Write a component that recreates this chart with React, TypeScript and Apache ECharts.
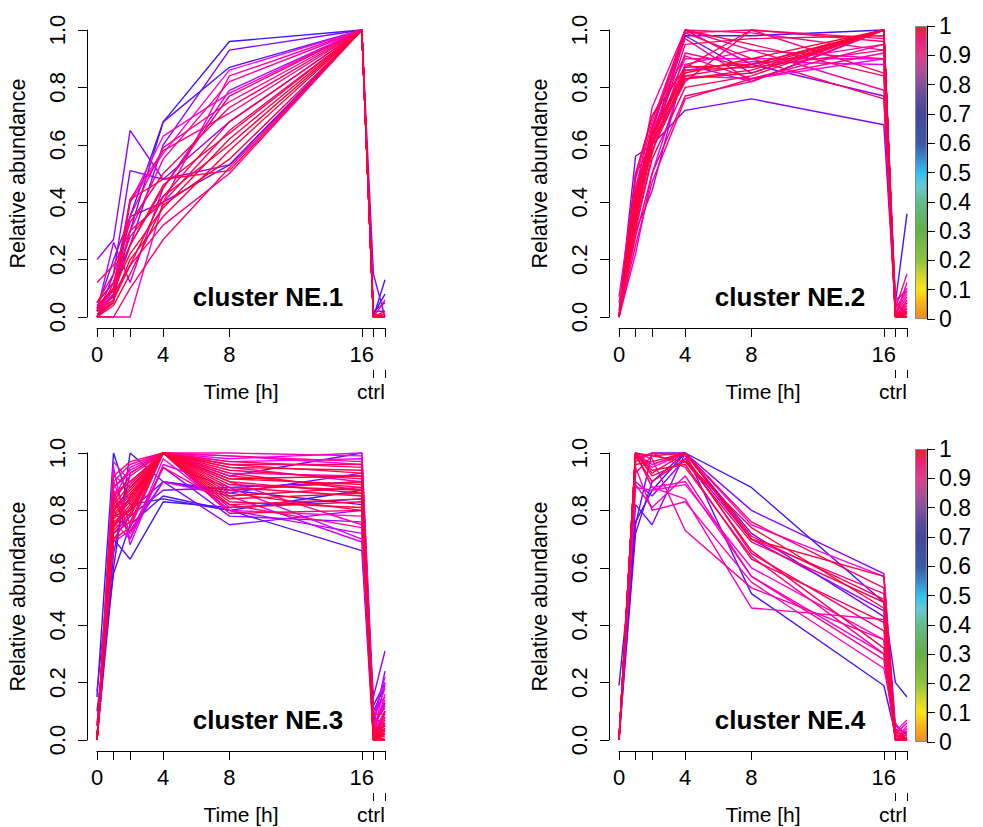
import React, { useEffect, useRef } from 'react';
import * as echarts from 'echarts';

// ---------- data ----------
const TIME_POINTS = [0, 1, 2, 4, 8, 16, 16.7, 17.4];
const X_TICKS = [0, 1, 2, 4, 8, 16, 16.7, 17.4];
const X_LABELS = [0, 4, 8, 16];
const CTRL_TICKS = [16.7, 17.4];
const CTRL_LABEL_POS = [16.55];
const CLUSTER_NAMES = ['cluster NE.1', 'cluster NE.2', 'cluster NE.3', 'cluster NE.4'];

const C1_PROFILES = [
  [0.03, 0.07, 0.30, 0.68, 0.96, 1, 0.01, 0.08],
  [0.05, 0.12, 0.25, 0.60, 0.93, 1, 0.02, 0.05],
  [0.02, 0.08, 0.35, 0.68, 0.87, 1, 0.00, 0.13],
  [0.20, 0.27, 0.65, 0.48, 0.68, 1, 0.15, 0.00],
  [0.00, 0.15, 0.51, 0.48, 0.53, 1, 0.02, 0.02],
  [0.02, 0.26, 0.12, 0.45, 0.79, 1, 0.00, 0.00],
  [0.00, 0.00, 0.00, 0.40, 0.84, 1, 0.00, 0.00],
  [0.00, 0.05, 0.40, 0.63, 0.78, 1, 0.00, 0.00],
  [0.04, 0.10, 0.41, 0.58, 0.71, 1, 0.00, 0.01],
  [0.01, 0.05, 0.41, 0.48, 0.51, 1, 0.00, 0.00],
  [0.00, 0.08, 0.25, 0.45, 0.77, 1, 0.01, 0.00],
  [0.12, 0.18, 0.30, 0.40, 0.65, 1, 0.00, 0.00],
  [0.03, 0.10, 0.22, 0.38, 0.62, 1, 0.00, 0.00],
  [0.00, 0.06, 0.20, 0.35, 0.58, 1, 0.00, 0.02],
  [0.05, 0.12, 0.28, 0.42, 0.68, 1, 0.00, 0.00],
  [0.00, 0.00, 0.10, 0.27, 0.52, 1, 0.00, 0.06],
  [0.00, 0.08, 0.18, 0.32, 0.50, 1, 0.00, 0.00],
  [0.02, 0.10, 0.30, 0.55, 0.82, 1, 0.00, 0.00],
  [0.00, 0.12, 0.35, 0.59, 0.75, 1, 0.00, 0.00],
  [0.05, 0.15, 0.33, 0.50, 0.73, 1, 0.00, 0.00],
  [0.02, 0.06, 0.18, 0.42, 0.60, 1, 0.00, 0.00],
  [0.00, 0.04, 0.15, 0.39, 0.55, 1, 0.00, 0.00],
  [0.04, 0.09, 0.25, 0.46, 0.64, 1, 0.00, 0.01],
  [0.00, 0.10, 0.40, 0.57, 0.86, 1, 0.00, 0.00],
  [0.03, 0.20, 0.35, 0.40, 0.53, 1, 0.00, 0.00],
];
const C1_MEMBERSHIP = [0.55, 0.65, 0.58, 0.68, 0.66, 0.72, 0.83, 0.8, 0.88, 0.95, 0.93, 0.9, 0.97, 0.96, 0.94, 0.9, 0.88, 0.86, 0.85, 0.92, 0.98, 0.99, 0.97, 0.78, 0.62];

const C2_PROFILES = [
  [0.00, 0.45, 0.62, 0.98, 0.98, 1.00, 0.05, 0.36],
  [0.00, 0.50, 0.60, 0.98, 0.85, 1.00, 0.00, 0.02],
  [0.02, 0.56, 0.60, 0.72, 0.76, 0.67, 0.02, 0.00],
  [0.00, 0.40, 0.65, 1.00, 0.88, 0.77, 0.00, 0.03],
  [0.00, 0.30, 0.44, 0.88, 0.82, 1.00, 0.00, 0.02],
  [0.05, 0.35, 0.60, 0.84, 0.83, 0.90, 0.02, 0.08],
  [0.00, 0.40, 0.65, 0.90, 0.90, 0.90, 0.05, 0.10],
  [0.00, 0.42, 0.73, 1.00, 0.88, 0.95, 0.00, 0.05],
  [0.00, 0.38, 0.66, 1.00, 0.99, 0.93, 0.03, 0.15],
  [0.00, 0.36, 0.62, 0.99, 1.00, 0.85, 0.00, 0.02],
  [0.00, 0.33, 0.60, 0.87, 1.00, 0.97, 0.05, 0.01],
  [0.00, 0.38, 0.64, 0.86, 0.87, 1.00, 0.00, 0.00],
  [0.00, 0.35, 0.61, 0.83, 0.86, 1.00, 0.00, 0.01],
  [0.00, 0.40, 0.63, 0.84, 0.88, 1.00, 0.00, 0.03],
  [0.00, 0.37, 0.58, 0.83, 0.85, 1.00, 0.02, 0.00],
  [0.00, 0.31, 0.55, 0.80, 0.84, 1.00, 0.00, 0.06],
  [0.00, 0.28, 0.50, 0.77, 0.82, 1.00, 0.00, 0.02],
  [0.00, 0.25, 0.47, 0.76, 0.83, 0.95, 0.03, 0.09],
  [0.00, 0.45, 0.68, 1.00, 0.93, 0.79, 0.00, 0.12],
  [0.00, 0.42, 0.66, 0.99, 0.90, 0.76, 0.02, 0.00],
  [0.07, 0.48, 0.70, 0.91, 0.83, 0.92, 0.00, 0.04],
  [0.00, 0.35, 0.62, 0.88, 0.93, 0.90, 0.00, 0.05],
  [0.00, 0.32, 0.60, 0.95, 0.97, 0.98, 0.00, 0.00],
  [0.00, 0.40, 0.66, 1.00, 0.95, 0.84, 0.00, 0.01],
  [0.00, 0.22, 0.50, 0.86, 0.89, 0.88, 0.06, 0.09],
  [0.00, 0.50, 0.70, 0.87, 0.88, 1.00, 0.00, 0.02],
  [0.00, 0.43, 0.64, 0.85, 0.90, 1.00, 0.00, 0.00],
  [0.00, 0.30, 0.57, 0.92, 0.87, 0.93, 0.01, 0.07],
  [0.00, 0.38, 0.63, 0.97, 0.82, 1.00, 0.00, 0.00],
  [0.00, 0.34, 0.60, 0.82, 1.00, 0.96, 0.00, 0.03],
];
const C2_MEMBERSHIP = [0.55, 0.58, 0.65, 0.66, 0.7, 0.78, 0.8, 0.85, 0.87, 0.9, 0.92, 0.94, 0.96, 0.97, 0.98, 0.93, 0.9, 0.88, 0.86, 0.91, 0.85, 0.82, 0.95, 0.92, 0.75, 0.99, 1.0, 0.89, 0.84, 0.9];

const C3_PROFILES = [
  [0.15, 1.00, 0.82, 0.84, 0.80, 0.87, 0.10, 0.19],
  [0.00, 0.60, 1.00, 0.90, 0.87, 0.82, 0.05, 0.12],
  [0.00, 0.70, 0.63, 0.83, 0.81, 0.84, 0.03, 0.05],
  [0.10, 0.58, 0.75, 0.85, 0.80, 0.66, 0.00, 0.10],
  [0.00, 0.65, 0.93, 1.00, 0.92, 1.00, 0.12, 0.20],
  [0.05, 0.75, 0.80, 0.90, 0.86, 0.93, 0.08, 0.05],
  [0.00, 0.80, 0.72, 0.90, 0.75, 0.80, 0.15, 0.31],
  [0.00, 0.85, 0.70, 0.95, 0.78, 0.76, 0.05, 0.24],
  [0.00, 0.92, 0.88, 1.00, 0.80, 0.72, 0.10, 0.15],
  [0.00, 0.95, 0.68, 0.96, 0.88, 0.70, 0.02, 0.20],
  [0.00, 0.97, 0.90, 1.00, 0.97, 0.98, 0.05, 0.12],
  [0.00, 0.90, 0.75, 1.00, 0.99, 0.96, 0.00, 0.08],
  [0.00, 0.80, 0.85, 1.00, 0.93, 0.92, 0.03, 0.10],
  [0.00, 0.78, 0.80, 1.00, 0.95, 0.90, 0.02, 0.05],
  [0.00, 0.82, 0.78, 1.00, 0.92, 0.88, 0.00, 0.08],
  [0.00, 0.75, 0.82, 1.00, 0.90, 0.86, 0.04, 0.03],
  [0.00, 0.72, 0.76, 1.00, 0.88, 0.85, 0.00, 0.06],
  [0.00, 0.80, 0.86, 1.00, 0.94, 0.91, 0.02, 0.00],
  [0.00, 0.85, 0.90, 1.00, 0.96, 0.93, 0.00, 0.10],
  [0.00, 0.70, 0.74, 1.00, 0.82, 0.84, 0.01, 0.02],
  [0.00, 0.76, 0.80, 1.00, 0.81, 0.83, 0.00, 0.04],
  [0.00, 0.74, 0.85, 1.00, 0.85, 0.88, 0.09, 0.09],
  [0.00, 0.80, 0.88, 1.00, 0.87, 0.90, 0.02, 0.01],
  [0.00, 0.77, 0.83, 1.00, 0.89, 0.87, 0.00, 0.00],
  [0.00, 0.83, 0.92, 1.00, 0.91, 0.89, 0.05, 0.03],
  [0.00, 0.88, 0.94, 1.00, 0.97, 0.95, 0.00, 0.07],
  [0.00, 0.90, 0.96, 1.00, 0.99, 0.97, 0.04, 0.14],
  [0.00, 0.73, 0.79, 1.00, 0.83, 0.81, 0.00, 0.02],
  [0.00, 0.79, 0.84, 1.00, 0.86, 0.80, 0.03, 0.05],
  [0.00, 0.81, 0.87, 1.00, 0.93, 0.87, 0.01, 0.00],
  [0.00, 0.86, 0.90, 1.00, 0.90, 0.75, 0.06, 0.11],
  [0.00, 0.76, 0.70, 0.98, 0.80, 0.78, 0.02, 0.16],
  [0.00, 0.88, 0.93, 1.00, 1.00, 0.99, 0.00, 0.05],
  [0.00, 0.84, 0.95, 1.00, 0.98, 1.00, 0.08, 0.22],
  [0.05, 0.70, 0.78, 1.00, 0.79, 0.80, 0.00, 0.03],
  [0.00, 0.74, 0.81, 1.00, 0.84, 0.86, 0.02, 0.00],
  [0.00, 0.78, 0.84, 1.00, 0.91, 0.92, 0.00, 0.04],
  [0.00, 0.82, 0.89, 1.00, 0.95, 0.94, 0.03, 0.02],
  [0.00, 0.69, 0.73, 0.90, 0.85, 0.69, 0.07, 0.18],
  [0.17, 0.72, 0.78, 0.87, 0.88, 0.90, 0.04, 0.13],
  [0.00, 0.87, 0.72, 0.95, 0.82, 0.74, 0.02, 0.09],
  [0.00, 0.92, 0.97, 1.00, 0.96, 0.96, 0.00, 0.00],
];
const C3_MEMBERSHIP = [0.52, 0.55, 0.56, 0.58, 0.6, 0.6, 0.68, 0.7, 0.72, 0.75, 0.78, 0.8, 0.82, 0.85, 0.88, 0.9, 0.92, 0.93, 0.94, 0.95, 0.96, 0.97, 0.98, 0.99, 0.97, 0.9, 0.86, 0.98, 0.96, 0.95, 0.83, 0.8, 0.82, 0.76, 0.92, 0.99, 1.0, 0.98, 0.74, 0.64, 0.87, 0.91];

const C4_PROFILES = [
  [0.19, 0.76, 0.87, 1.00, 0.88, 0.48, 0.20, 0.15],
  [0.00, 0.72, 0.90, 1.00, 0.51, 0.19, 0.02, 0.00],
  [0.00, 0.75, 1.00, 1.00, 0.72, 0.43, 0.00, 0.03],
  [0.00, 0.82, 0.75, 1.00, 0.80, 0.58, 0.05, 0.02],
  [0.00, 0.90, 0.85, 0.98, 0.70, 0.45, 0.00, 0.00],
  [0.00, 1.00, 0.95, 1.00, 0.75, 0.57, 0.03, 0.07],
  [0.00, 1.00, 0.88, 0.90, 0.57, 0.30, 0.00, 0.05],
  [0.00, 1.00, 0.88, 0.84, 0.46, 0.42, 0.00, 0.01],
  [0.00, 0.95, 0.80, 0.83, 0.55, 0.25, 0.06, 0.00],
  [0.00, 1.00, 0.98, 0.73, 0.53, 0.35, 0.00, 0.04],
  [0.00, 0.98, 1.00, 0.95, 0.64, 0.30, 0.00, 0.02],
  [0.00, 1.00, 0.96, 1.00, 0.70, 0.51, 0.02, 0.06],
  [0.00, 0.97, 1.00, 0.99, 0.65, 0.38, 0.00, 0.00],
  [0.00, 1.00, 0.92, 0.97, 0.69, 0.48, 0.01, 0.03],
  [0.00, 0.93, 0.99, 1.00, 0.76, 0.53, 0.00, 0.00],
  [0.00, 1.00, 0.94, 0.96, 0.63, 0.41, 0.03, 0.00],
  [0.00, 0.96, 0.97, 1.00, 0.71, 0.49, 0.00, 0.02],
  [0.00, 0.99, 0.90, 0.98, 0.66, 0.32, 0.00, 0.00],
  [0.00, 1.00, 0.93, 1.00, 0.70, 0.57, 0.02, 0.00],
  [0.00, 0.89, 0.81, 0.92, 0.57, 0.28, 0.00, 0.01],
  [0.00, 0.88, 0.87, 0.89, 0.60, 0.35, 0.00, 0.00],
  [0.00, 1.00, 0.99, 0.97, 0.74, 0.46, 0.04, 0.00],
];
const C4_MEMBERSHIP = [0.55, 0.57, 0.6, 0.66, 0.7, 0.78, 0.8, 0.82, 0.83, 0.84, 0.86, 0.88, 0.9, 0.92, 0.93, 0.95, 0.96, 0.97, 0.98, 0.85, 0.8, 0.99];

const COLORBAR_TICKS = [0, 0.1, 0.2, 0.3, 0.4, 0.5, 0.6, 0.7, 0.8, 0.9, 1];

// ---------- styling ----------
const FONT = 'Liberation Sans, Arial, Helvetica, sans-serif';
const LINE_COLOR_STOPS: [number, number[]][] = [
  [0.5, [30, 30, 255]],
  [0.6, [100, 10, 255]],
  [0.7, [160, 0, 255]],
  [0.78, [255, 0, 240]],
  [0.85, [255, 0, 160]],
  [0.92, [255, 0, 95]],
  [1.0, [255, 0, 50]],
];
const CB_STOPS: [number, string][] = [
  [0.0, '#F08A24'], [0.05, '#F9B21A'], [0.1, '#FBE414'], [0.15, '#CCD52C'],
  [0.2, '#8CC53F'], [0.3, '#64B044'], [0.4, '#62BC8A'], [0.45, '#68C9D2'],
  [0.5, '#2EC2F0'], [0.55, '#3C86C8'], [0.6, '#3A5AA6'], [0.7, '#45479A'],
  [0.75, '#5C4A9C'], [0.8, '#84509E'], [0.85, '#B04E9A'], [0.9, '#DE3E8C'],
  [0.95, '#E8247A'], [1.0, '#EE2030'],
];

function memberColor(m: number): string {
  const s = LINE_COLOR_STOPS;
  if (m <= s[0][0]) return `rgb(${s[0][1].join(',')})`;
  for (let i = 1; i < s.length; i++) {
    if (m <= s[i][0]) {
      const t = (m - s[i - 1][0]) / (s[i][0] - s[i - 1][0]);
      const c = s[i - 1][1].map((v, k) => Math.round(v + (s[i][1][k] - v) * t));
      return `rgb(${c.join(',')})`;
    }
  }
  return `rgb(${s[s.length - 1][1].join(',')})`;
}

const PANELS = [
  { profiles: C1_PROFILES, membership: C1_MEMBERSHIP, left: 97, top: 30, colorbar: false },
  { profiles: C2_PROFILES, membership: C2_MEMBERSHIP, left: 619, top: 30, colorbar: true },
  { profiles: C3_PROFILES, membership: C3_MEMBERSHIP, left: 97, top: 453, colorbar: false },
  { profiles: C4_PROFILES, membership: C4_MEMBERSHIP, left: 619, top: 453, colorbar: true },
];
const PLOT_W = 288;
const PLOT_H = 287;
const CTRL_AXIS_DROP = 53; // ctrl tick row sits this far below the data area

function buildOption() {
  const grid: any[] = [];
  const xAxis: any[] = [];
  const yAxis: any[] = [];
  const series: any[] = [];
  const graphic: any[] = [];

  PANELS.forEach((p, pi) => {
    const gi = grid.length;
    grid.push({ left: p.left, top: p.top, width: PLOT_W, height: PLOT_H, containLabel: false });
    const xMain = xAxis.length;
    xAxis.push({
      type: 'value', gridIndex: gi, min: 0, max: 17.4, position: 'bottom', offset: 11,
      axisLine: { show: true, onZero: false, lineStyle: { color: '#000', width: 1 } },
      axisTick: { show: true, customValues: X_TICKS, length: 9, lineStyle: { color: '#000', width: 1 } },
      axisLabel: { show: true, customValues: X_LABELS, fontSize: 22, color: '#000', fontFamily: FONT, margin: 15 },
      splitLine: { show: false },
      name: 'Time [h]', nameLocation: 'middle', nameGap: 53,
      nameTextStyle: { fontSize: 21, color: '#000', fontFamily: FONT },
    });
    const yMain = yAxis.length;
    yAxis.push({
      type: 'value', gridIndex: gi, min: 0, max: 1, interval: 0.2, position: 'left', offset: 10,
      axisLine: { show: true, onZero: false, lineStyle: { color: '#000', width: 1 } },
      axisTick: { show: true, length: 9, lineStyle: { color: '#000', width: 1 } },
      axisLabel: { rotate: 90, fontSize: 22, color: '#000', fontFamily: FONT, margin: 19, formatter: (v: number) => v.toFixed(1) },
      splitLine: { show: false },
      name: 'Relative abundance', nameLocation: 'middle', nameGap: 58,
      nameTextStyle: { fontSize: 21.5, color: '#000', fontFamily: FONT },
    });

    // ctrl tick row: its own grid whose bottom edge is the tick row
    const ctg = grid.length;
    grid.push({ left: p.left, top: p.top, width: PLOT_W, height: PLOT_H + CTRL_AXIS_DROP });
    xAxis.push({
      type: 'value', gridIndex: ctg, min: 0, max: 17.4, position: 'bottom',
      axisLine: { show: false, onZero: false },
      axisTick: { show: true, customValues: CTRL_TICKS, length: 8, lineStyle: { color: '#000', width: 1 } },
      axisLabel: { show: true, customValues: CTRL_LABEL_POS, formatter: () => 'ctrl', fontSize: 21, color: '#000', fontFamily: FONT, margin: 11 },
      splitLine: { show: false },
    });
    yAxis.push({ type: 'value', gridIndex: ctg, min: 0, max: 1, show: false });

    const order = p.membership.map((m, i) => i).sort((a, b) => p.membership[a] - p.membership[b]);
    order.forEach((i) => {
      series.push({
        type: 'line', xAxisIndex: xMain, yAxisIndex: yMain, symbol: 'none', silent: true, clip: false,
        lineStyle: { width: 1.4, color: memberColor(p.membership[i]) },
        data: TIME_POINTS.map((t, k) => [t, p.profiles[i][k]]),
      });
    });

    graphic.push({
      type: 'text', x: p.left + 171, y: p.top + 267,
      style: { text: CLUSTER_NAMES[pi], font: `bold 26px ${FONT}`, fill: '#000', textAlign: 'center', textVerticalAlign: 'middle' },
    });

    if (p.colorbar) {
      const cg = grid.length;
      grid.push({ left: 915, top: p.top - 4, width: 12, height: 293 });
      const cx = xAxis.length;
      xAxis.push({ type: 'category', gridIndex: cg, data: ['m'], show: false, boundaryGap: true });
      const cy = yAxis.length;
      yAxis.push({
        type: 'value', gridIndex: cg, min: 0, max: 1, position: 'right',
        axisLine: { show: true, onZero: false, lineStyle: { color: '#000', width: 1 } },
        axisTick: { show: true, customValues: COLORBAR_TICKS, length: 8, lineStyle: { color: '#000' } },
        axisLabel: {
          customValues: COLORBAR_TICKS, fontSize: 23, color: '#000', fontFamily: FONT, margin: 12,
          formatter: (v: number) => String(Math.round(v * 10) / 10),
        },
        splitLine: { show: false },
      });
      series.push({
        type: 'bar', xAxisIndex: cx, yAxisIndex: cy, barWidth: '100%', silent: true,
        data: [1],
        itemStyle: {
          color: new echarts.graphic.LinearGradient(0, 1, 0, 0, CB_STOPS.map(([o, c]) => ({ offset: o, color: c }))),
          borderColor: '#888', borderWidth: 1,
        },
      });
    }
  });

  return { animation: false, backgroundColor: '#fff', grid, xAxis, yAxis, series, graphic };
}

export default function App() {
  const ref = useRef<HTMLDivElement>(null);
  useEffect(() => {
    if (!ref.current) return;
    const chart = echarts.init(ref.current, undefined, { renderer: 'svg' });
    chart.setOption(buildOption() as any);
    return () => chart.dispose();
  }, []);
  return <div ref={ref} style={{ position: 'fixed', left: 0, top: 0, width: 983, height: 827 }} />;
}
